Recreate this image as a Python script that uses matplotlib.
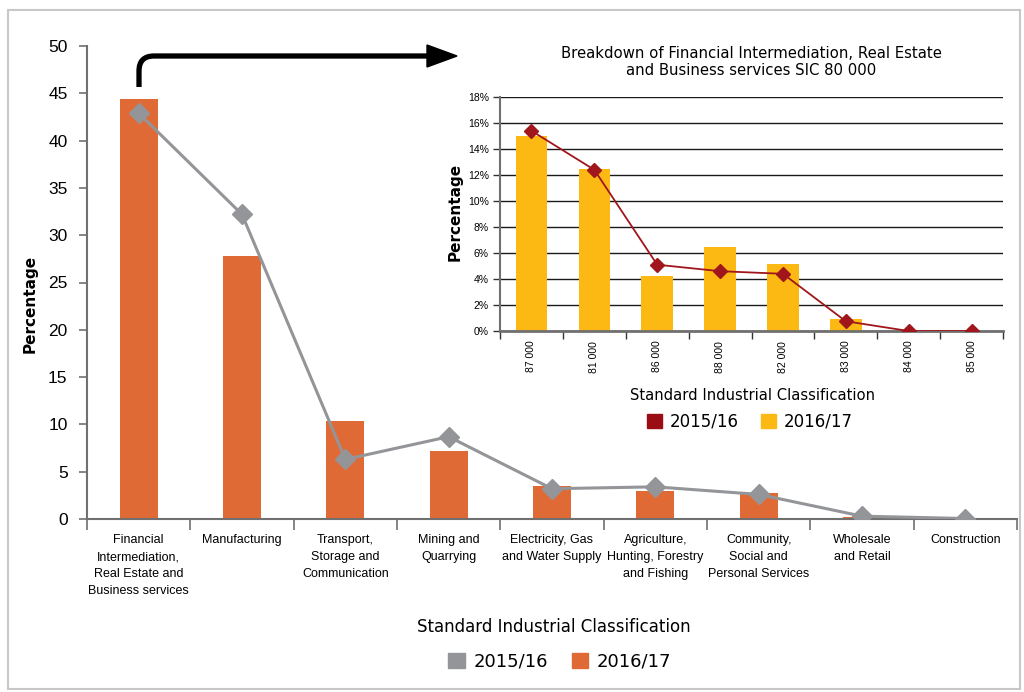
import matplotlib
matplotlib.use("Agg")
import matplotlib.pyplot as plt
from matplotlib.patches import Patch, PathPatch, Polygon, Rectangle
from matplotlib.path import Path
from matplotlib.font_manager import FontProperties

# ---------------- data ----------------
main_categories = ["Financial\nIntermediation,\nReal Estate and\nBusiness services",
                   "Manufacturing",
                   "Transport,\nStorage and\nCommunication",
                   "Mining and\nQuarrying",
                   "Electricity, Gas\nand Water Supply",
                   "Agriculture,\nHunting, Forestry\nand Fishing",
                   "Community,\nSocial and\nPersonal Services",
                   "Wholesale\nand Retail",
                   "Construction"]
main_2016_17 = [44.4, 27.8, 10.4, 7.2, 3.5, 3.0, 2.75, 0.2, 0.0]
main_2015_16 = [42.9, 32.2, 6.3, 8.7, 3.2, 3.4, 2.6, 0.3, 0.05]
main_yticks = [0, 5, 10, 15, 20, 25, 30, 35, 40, 45, 50]

inset_categories = ["87 000", "81 000", "86 000", "88 000", "82 000", "83 000", "84 000", "85 000"]
inset_2016_17 = [15.0, 12.5, 4.2, 6.5, 5.15, 0.9, 0.0, 0.0]
inset_2015_16 = [15.4, 12.4, 5.1, 4.6, 4.4, 0.75, 0.0, 0.0]
inset_yticks = [0, 2, 4, 6, 8, 10, 12, 14, 16, 18]
inset_yticklabels = [f"{v}%" for v in inset_yticks]

# ---------------- fonts ----------------
def nfont(size):
    return FontProperties(family=['Liberation Sans', 'DejaVu Sans'], size=size)

# ---------------- style ----------------
ORANGE = "#E06A35"
GRAY = "#939598"
YELLOW = "#FDB913"
DARKRED = "#A0161B"
AXGRAY = "#707070"

W, H = 1024, 692
fig = plt.figure(figsize=(W / 100, H / 100), dpi=100)

def fx(px):
    return px / W

def fy(py):
    return 1 - py / H

# outer frame
fig.patches.append(Rectangle((fx(8), fy(689)), fx(1020) - fx(8), fy(10) - fy(689),
                             transform=fig.transFigure, fill=False,
                             edgecolor="#C8C8C8", linewidth=1.5))

# ---------------- main axes ----------------
ax = fig.add_axes([fx(87), fy(519), fx(1017) - fx(87), fy(46) - fy(519)])
x = list(range(len(main_categories)))
ax.bar(x, main_2016_17, width=0.37, color=ORANGE, zorder=2)
ax.plot(x, main_2015_16, color=GRAY, lw=2.2, marker='D', ms=10, zorder=3)
ax.set_xlim(-0.5, len(x) - 0.5)
ax.set_ylim(0, 50)
ax.set_yticks(main_yticks)
ax.set_yticklabels([str(v) for v in main_yticks], fontproperties=nfont(12.5))
ax.set_xticks(x)
ax.set_xticklabels(main_categories, fontproperties=nfont(9), linespacing=1.55,
                   va='top')
ax.tick_params(axis='x', length=0, pad=11)
ax.set_xticks([i - 0.5 for i in range(len(x) + 1)], minor=True)
ax.tick_params(axis='x', which='minor', length=8, direction='out', color=AXGRAY, width=1.2)
ax.tick_params(axis='y', length=6, color=AXGRAY, width=1.2, pad=8)
for s in ['top', 'right']:
    ax.spines[s].set_visible(False)
for s in ['left', 'bottom']:
    ax.spines[s].set_color(AXGRAY)
    ax.spines[s].set_linewidth(1.5)
fig.text(fx(30), fy(304), "Percentage", rotation=90, ha='center', va='center',
         fontsize=11, fontweight='semibold')
fig.text(fx(554), fy(627), "Standard Industrial Classification", ha='center',
         va='center', fontsize=12)
fig.legend(handles=[Patch(color=GRAY, label="2015/16"),
                    Patch(color=ORANGE, label="2016/17")],
           loc='center', bbox_to_anchor=(fx(560), fy(662)), ncol=2,
           frameon=False, fontsize=13, handlelength=0.9, handleheight=0.9,
           handletextpad=0.5, columnspacing=1.3)

# ---------------- arrow ----------------
r = 15
verts = [(139, 87), (139, 56 + r), (139, 56), (139 + r, 56), (430, 56)]
codes = [Path.MOVETO, Path.LINETO, Path.CURVE3, Path.CURVE3, Path.LINETO]
path = Path([(fx(a), fy(b)) for a, b in verts], codes)
fig.patches.append(PathPatch(path, transform=fig.transFigure, fill=False,
                             edgecolor='black', linewidth=3.8, capstyle='butt',
                             joinstyle='round'))
fig.patches.append(Polygon([(fx(427), fy(45)), (fx(457), fy(56)), (fx(427), fy(67))],
                           closed=True, transform=fig.transFigure, color='black'))

# ---------------- inset axes ----------------
ai = fig.add_axes([fx(500), fy(331), fx(1003) - fx(500), fy(97) - fy(331)])
xi = list(range(len(inset_categories)))
ai.bar(xi, inset_2016_17, width=0.5, color=YELLOW, zorder=2)
ai.plot(xi, inset_2015_16, color=DARKRED, lw=1.3, marker='D', ms=7, zorder=3)
ai.set_xlim(-0.5, len(xi) - 0.5)
ai.set_ylim(0, 18)
ai.set_yticks(inset_yticks)
ai.set_yticklabels(inset_yticklabels, fontproperties=nfont(7.5))
ai.yaxis.grid(True, color='#1a1a1a', lw=1.0, zorder=0)
ai.set_axisbelow(True)
ai.set_xticks(xi)
ai.set_xticklabels(inset_categories, rotation=90, fontproperties=nfont(7.5))
ai.tick_params(axis='x', length=0, pad=7)
ai.set_xticks([i - 0.5 for i in range(len(xi) + 1)], minor=True)
ai.tick_params(axis='x', which='minor', length=6, direction='out', color='#333333', width=1.0)
ai.tick_params(axis='y', length=5, color='#333333', width=1.0, pad=3)
for s in ['top', 'right']:
    ai.spines[s].set_visible(False)
ai.spines['left'].set_color(AXGRAY)
ai.spines['left'].set_linewidth(1.5)
ai.spines['bottom'].set_color(AXGRAY)
ai.spines['bottom'].set_linewidth(2)
fig.text(fx(751), fy(62), "Breakdown of Financial Intermediation, Real Estate\nand Business services SIC 80 000",
         ha='center', va='center', fontsize=10.7, fontweight='medium', linespacing=1.2)
fig.text(fx(455), fy(212), "Percentage", rotation=90, ha='center', va='center',
         fontsize=11, fontweight='semibold')
fig.text(fx(752), fy(396), "Standard Industrial Classification", ha='center',
         va='center', fontsize=10.6)
fig.legend(handles=[Patch(color="#9B0D14", label="2015/16"),
                    Patch(color=YELLOW, label="2016/17")],
           loc='center', bbox_to_anchor=(fx(750), fy(422)), ncol=2,
           frameon=False, fontsize=12, handlelength=0.9, handleheight=0.9,
           handletextpad=0.5, columnspacing=1.3)

fig.savefig("out.png", dpi=100)
